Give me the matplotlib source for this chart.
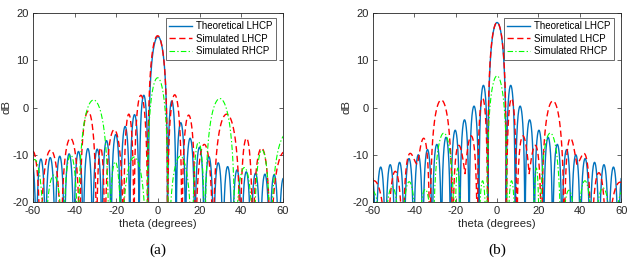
import numpy as np
import matplotlib
matplotlib.use("Agg")
import matplotlib.pyplot as plt

plt.rcParams['font.family'] = ['Liberation Sans', 'DejaVu Sans']
plt.rcParams['axes.unicode_minus'] = False

# Each curve is a string of lobes: null positions (deg) and the peak (dB) of
# every lobe between two consecutive nulls.

# ---- (a) ----
a_theo_nulls = [-62.8, -58.4, -54.0, -49.4, -44.9, -40.4, -35.9, -31.4, -26.9, -22.5,
                -18.0, -13.5, -9.0, -4.6, 4.6, 8.7, 13.2, 17.7, 22.2, 26.7, 31.2,
                35.7, 40.2, 44.6, 49.1, 53.6, 58.0, 62.4]
a_theo_peaks = [-11.5, -10.9, -10.6, -10.3, -9.8, -9.3, -8.7, -8.8, -7.0, -5.7, -4.0,
                -1.5, 2.6, 15.0, 1.4, -3.2, -6.5, -8.4, -10.4, -11.7, -12.5, -13.2,
                -13.6, -13.9, -14.1, -14.2, -15.0]

a_lhcp_nulls = [-63.5, -56.5, -46.5, -37.5, -29.5, -25.5, -16.5, -11.5, -4.9,
                4.6, 11.5, 18.0, 26.5, 39.5, 45.5, 54.0, 68.0]
a_lhcp_peaks = [-9.3, -9.0, -6.5, -0.8, -8.5, -4.7, -1.4, 2.6, 15.2,
                2.7, -1.6, -7.8, -1.4, -6.5, -8.6, -9.3]

a_rhcp_nulls = [-64.0, -54.5, -45.5, -38.3, -23.5, -17.5, -5.3, 5.0, 16.5, 22.5,
                37.0, 46.0, 54.0, 70.0]
a_rhcp_peaks = [-11.0, -14.3, -10.0, 1.6, -11.5, -10.5, 6.3, -10.3, -7.3, 1.9,
                -12.7, -9.0, -5.5]

# ---- (b) ----
b_theo_nulls = [-63.2, -58.6, -54.0, -49.4, -44.9, -40.3, -35.9, -31.4, -26.9, -22.5,
                -18.0, -13.5, -8.8, -4.4, 4.4, 8.8, 13.5, 18.0, 22.5, 26.9, 31.4,
                35.9, 40.3, 44.9, 49.4, 54.0, 58.6, 63.2]
b_theo_peaks = [-13.5, -12.6, -12.1, -11.6, -10.8, -10.0, -8.9, -7.8, -6.3, -4.8, -2.6,
                0.3, 4.7, 18.0, 4.7, 0.3, -2.6, -4.8, -6.3, -7.8, -8.9, -10.0,
                -10.8, -11.6, -12.1, -12.6, -13.5]

b_lhcp_nulls = [-66.0, -53.0, -45.5, -38.5, -32.5, -21.5, -15.5, -9.5, -4.5,
                4.5, 9.5, 15.5, 21.5, 32.5, 38.5, 45.5, 53.0, 66.0]
b_lhcp_peaks = [-15.5, -13.5, -9.7, -6.5, 1.6, -8.0, -6.0, 2.0, 18.0,
                1.9, -6.0, -8.0, 1.4, -6.5, -9.7, -13.8, -15.8]
b_lhcp_floors = [-60, -60, -60, -12, -60, -60, -14, -60, -60,
                 -60, -60, -14, -60, -60, -12, -60, -60, -60]

b_rhcp_nulls = [-66.0, -55.0, -46.5, -38.5, -31.0, -20.5, -17.5, -9.0, -5.0,
                5.0, 9.0, 17.5, 20.5, 31.0, 38.5, 46.5, 56.0, 66.0]
b_rhcp_peaks = [-17.5, -16.8, -15.7, -17.3, -5.4, -12.8, -25.0, -15.5, 6.7,
                -15.5, -25.0, -12.8, -5.4, -17.5, -15.5, -17.0, -17.5]

BLUE = '#0072BD'
RED = '#FF0000'
GREEN = '#00FF00'
INK = '#262626'


def lobe_curve(nulls, peaks, floors=None):
    if floors is None:
        floors = [-60] * len(nulls)
    xs, ys = [], []
    u = np.linspace(0, 1, 90)
    for i, p in enumerate(peaks):
        a, b = nulls[i], nulls[i + 1]
        fl = 10 ** (floors[i] / 20) * (1 - u) + 10 ** (floors[i + 1] / 20) * u
        amp = 10 ** (p / 20)
        lin = fl + (amp - fl) * np.sin(np.pi * u)
        xs.append(a + (b - a) * u)
        ys.append(20 * np.log10(np.maximum(lin, 1e-3)))
    return np.concatenate(xs), np.concatenate(ys)


def draw(ax, theo, lhcp, rhcp, caption):
    x, y = lobe_curve(*theo)
    ax.plot(x, y, color=BLUE, lw=1.0, label='Theoretical LHCP')
    x, y = lobe_curve(*lhcp)
    ax.plot(x, y, color=RED, lw=1.0, ls=(0, (4.5, 2.5)), label='Simulated LHCP')
    x, y = lobe_curve(*rhcp)
    ax.plot(x, y, color=GREEN, lw=0.8, ls=(0, (5, 2, 1.2, 2)), label='Simulated RHCP')

    ax.set_xlim(-60, 60)
    ax.set_ylim(-20, 20)
    ax.set_xticks([-60, -40, -20, 0, 20, 40, 60])
    ax.set_yticks([-20, -10, 0, 10, 20])
    ax.tick_params(direction='in', length=3, width=0.5, labelsize=8, colors=INK,
                   top=True, right=True, pad=3)
    for s in ax.spines.values():
        s.set_linewidth(0.6)
        s.set_color(INK)
    ax.set_xlabel('theta (degrees)', fontsize=8.2, color=INK, labelpad=2)
    ax.set_ylabel('dB', fontsize=8.2, color=INK, labelpad=1)
    leg = ax.legend(loc='upper right', bbox_to_anchor=(0.972, 0.974), borderaxespad=0,
                    fontsize=7, frameon=True, fancybox=False, handlelength=2.4,
                    handletextpad=0.4, labelspacing=0.25, borderpad=0.35)
    leg.get_frame().set_edgecolor(INK)
    leg.get_frame().set_linewidth(0.6)
    ax.text(0.5, -0.255, caption, transform=ax.transAxes, ha='center', va='center',
            fontsize=11, family='Liberation Serif')


fig = plt.figure(figsize=(6.28, 2.61), dpi=100)
ax1 = fig.add_axes([0.0525, 0.226, 0.398, 0.724])
ax2 = fig.add_axes([0.594, 0.226, 0.395, 0.724])

draw(ax1, (a_theo_nulls, a_theo_peaks), (a_lhcp_nulls, a_lhcp_peaks),
     (a_rhcp_nulls, a_rhcp_peaks), '(a)')
draw(ax2, (b_theo_nulls, b_theo_peaks), (b_lhcp_nulls, b_lhcp_peaks, b_lhcp_floors),
     (b_rhcp_nulls, b_rhcp_peaks), '(b)')

fig.savefig('out.png', dpi=100)
